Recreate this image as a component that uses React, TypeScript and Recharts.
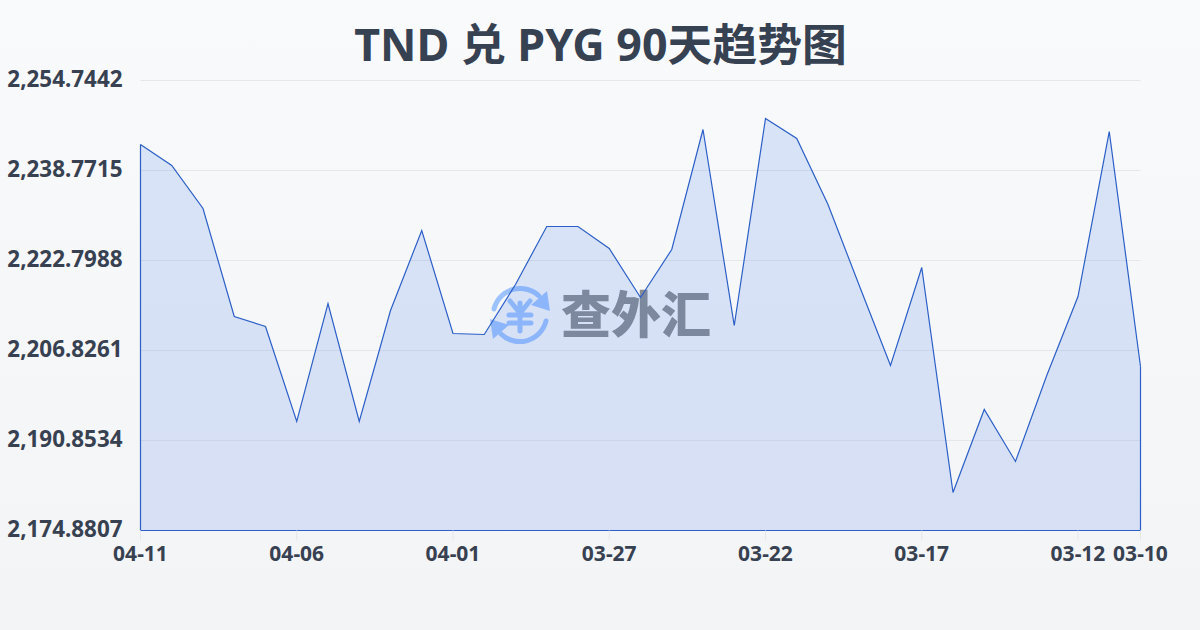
import { AreaChart, Area, XAxis, YAxis, CartesianGrid, ReferenceLine } from "recharts"

const dates = [
  "04-11", "04-10", "04-09", "04-08", "04-07", "04-06", "04-05", "04-04", "04-03", "04-02", "04-01",
  "03-31", "03-30", "03-29", "03-28", "03-27", "03-26", "03-25", "03-24", "03-23", "03-22",
  "03-21", "03-20", "03-19", "03-18", "03-17", "03-16", "03-15", "03-14", "03-13", "03-12", "03-11", "03-10",
]
const rates = [
  2243.39, 2239.66, 2232.03, 2212.86, 2211.09, 2194.23, 2215.17, 2194.23, 2213.93, 2228.12, 2209.84,
  2209.67, 2218.54, 2228.83, 2228.83, 2224.93, 2216.23, 2224.75, 2246.05, 2211.26, 2248.0,
  2244.45, 2232.74, 2218.36, 2204.16, 2221.56, 2181.63, 2196.36, 2187.13, 2202.39, 2216.41, 2245.69, 2203.99,
]
const xTicks = ["04-11", "04-06", "04-01", "03-27", "03-22", "03-17", "03-12", "03-10"]
const yTicks = [2174.8807, 2190.8534, 2206.8261, 2222.7988, 2238.7715, 2254.7442]

const data = dates.map((date, i) => ({ date, rate: rates[i] }))
const FONT = "'Noto Sans', 'Noto Sans CJK SC', sans-serif"
const LINE = "#2b5fc7"
const first = dates[0]
const last = dates[dates.length - 1]
const yMin = yTicks[0]
const yMax = yTicks[yTicks.length - 1]

const formatRate = (v: number) =>
  v.toLocaleString("en-US", { minimumFractionDigits: 4, maximumFractionDigits: 4 })

function Watermark() {
  return (
    <g>
      <g fill="none" stroke="#9cc2ff" strokeWidth={5} strokeLinecap="round">
        <path d="M494 309 A27 27 0 0 1 539 296" />
        <path d="M546 321 A27 27 0 0 1 501 334" />
        <path d="M520 303 L520 331 M510 301 L520 313 L530 301 M509 315 L531 315 M509 323 L531 323" strokeWidth={5} />
      </g>
      <path d="M550 311 L531 305 L547 291 Z" fill="#9cc2ff" />
      <path d="M490 319 L509 325 L493 339 Z" fill="#9cc2ff" />
      <text x={636} y={333} textAnchor="middle" fontSize={50} fontWeight={900} fill="#898c90" fontFamily={FONT}>
        查外汇
      </text>
    </g>
  )
}

export default function App() {
  return (
    <div
      style={{
        position: "fixed",
        left: 0,
        top: 0,
        width: 1200,
        height: 630,
        background: "linear-gradient(180deg, #f9fafc 0%, #f3f4f6 100%)",
      }}
    >
      <AreaChart width={1200} height={630} data={data} margin={{ top: 80.5, right: 59.5, bottom: 0, left: 0 }}>
        <defs>
          <linearGradient id="rateFill" x1="0" y1="0" x2="0" y2="1">
            <stop offset="0%" stopColor="#3b7be8" stopOpacity={0.17} />
            <stop offset="100%" stopColor="#3b6ee0" stopOpacity={0.16} />
          </linearGradient>
        </defs>
        <text
          x={600.5}
          y={61}
          textAnchor="middle"
          fontSize={44.8}
          fontWeight={700}
          fill="#364152"
          fontFamily={FONT}
        >
          TND 兑 PYG 90天趋势图
        </text>
        <CartesianGrid horizontal vertical={false} stroke="#e5e7eb" strokeWidth={1} />
        <XAxis
          dataKey="date"
          scale="point"
          ticks={xTicks}
          interval={0}
          axisLine={{ stroke: LINE, strokeWidth: 1 }}
          tickLine={{ stroke: "#e5e7eb" }}
          tickSize={10}
          tickMargin={6}
          height={99.5}
          tick={{ fontSize: 21, fontWeight: 700, fill: "#374151", fontFamily: FONT }}
        />
        <YAxis
          type="number"
          domain={[yMin, yMax]}
          ticks={yTicks}
          width={140.5}
          axisLine={false}
          tickLine={false}
          tickSize={0}
          tickMargin={18}
          tickFormatter={formatRate}
          tick={{ fontSize: 22.4, fontWeight: 700, fill: "#374151", fontFamily: FONT, dy: -1 }}
        />
        <Watermark />
        <Area
          type="linear"
          dataKey="rate"
          stroke={LINE}
          strokeWidth={1.2}
          fill="url(#rateFill)"
          fillOpacity={1}
          dot={false}
          activeDot={false}
          isAnimationActive={false}
        />
        <ReferenceLine segment={[{ x: first, y: yMin }, { x: first, y: rates[0] }]} stroke={LINE} strokeWidth={1.2} />
        <ReferenceLine
          segment={[{ x: last, y: yMin }, { x: last, y: rates[rates.length - 1] }]}
          stroke={LINE}
          strokeWidth={1.2}
        />
      </AreaChart>
    </div>
  )
}
